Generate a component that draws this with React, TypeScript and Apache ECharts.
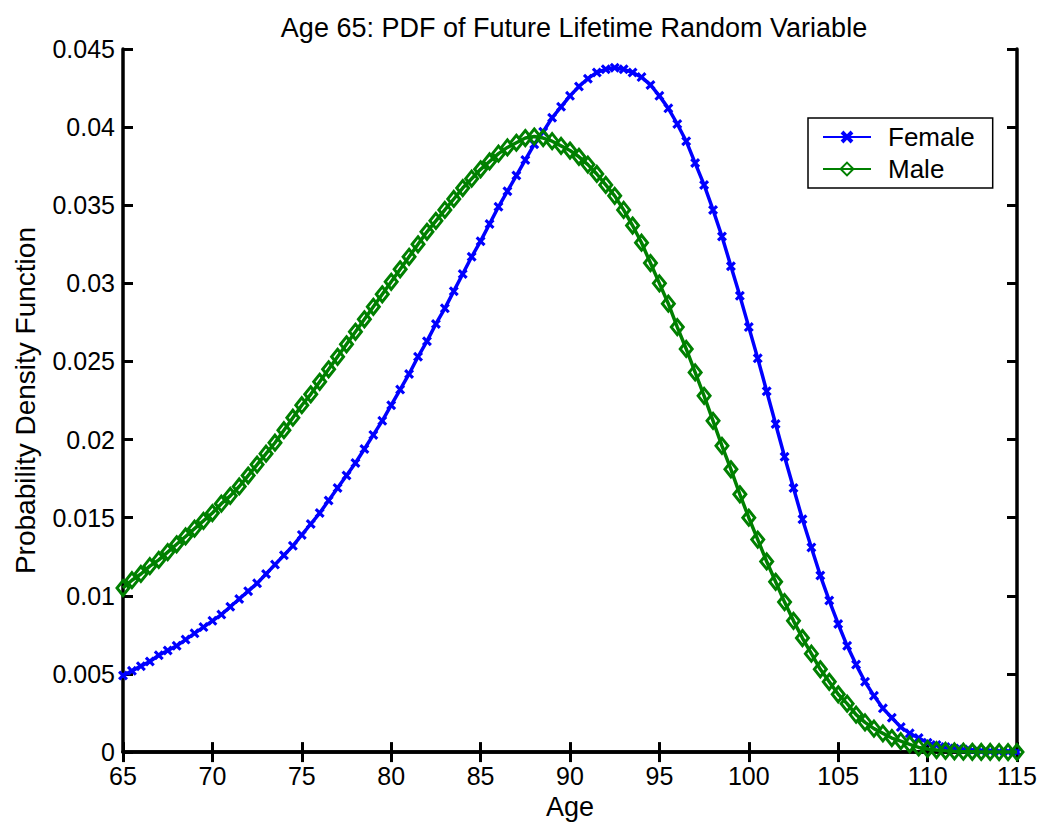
import React, { useEffect, useRef } from "react";
import * as echarts from "echarts";

const ages: number[] = [
  65, 65.5, 66, 66.5, 67, 67.5, 68, 68.5, 69, 69.5, 70, 70.5, 71, 71.5, 72, 72.5, 73, 73.5, 74, 74.5,
  75, 75.5, 76, 76.5, 77, 77.5, 78, 78.5, 79, 79.5, 80, 80.5, 81, 81.5, 82, 82.5, 83, 83.5, 84, 84.5,
  85, 85.5, 86, 86.5, 87, 87.5, 88, 88.5, 89, 89.5, 90, 90.5, 91, 91.5, 92, 92.5, 93, 93.5, 94, 94.5,
  95, 95.5, 96, 96.5, 97, 97.5, 98, 98.5, 99, 99.5, 100, 100.5, 101, 101.5, 102, 102.5, 103, 103.5, 104, 104.5,
  105, 105.5, 106, 106.5, 107, 107.5, 108, 108.5, 109, 109.5, 110, 110.5, 111, 111.5, 112, 112.5, 113, 113.5, 114, 114.5,
  115,
];

const female: number[] = [
  0.0049, 0.0052, 0.0055, 0.0058, 0.0062, 0.0065, 0.0068, 0.0072, 0.0076, 0.008,
  0.0084, 0.0088, 0.0093, 0.0098, 0.0103, 0.0108, 0.0114, 0.012, 0.0126, 0.0132,
  0.0139, 0.0146, 0.0153, 0.0161, 0.0169, 0.0177, 0.0185, 0.0194, 0.0203, 0.0212,
  0.0222, 0.0232, 0.0242, 0.0253, 0.0263, 0.0274, 0.0284, 0.0295, 0.0306, 0.0317,
  0.0327, 0.0338, 0.0349, 0.0359, 0.0369, 0.0379, 0.0389, 0.0397, 0.0406, 0.0413,
  0.042, 0.0426, 0.0431, 0.0435, 0.0437, 0.0438, 0.0437, 0.0435, 0.0432, 0.0427,
  0.042, 0.0412, 0.0402, 0.0391, 0.0377, 0.0363, 0.0347, 0.033, 0.0311, 0.0292,
  0.0272, 0.0252, 0.0231, 0.021, 0.0189, 0.0169, 0.0149, 0.0131, 0.0113, 0.0097,
  0.0082, 0.0068, 0.0056, 0.0045, 0.0036, 0.0028, 0.0022, 0.0016, 0.0012, 0.0009,
  0.0006, 0.00045, 0.00032, 0.00023, 0.00016, 0.00011, 0.00007, 0.00005, 0.00003, 0.00002,
  0.00001,
];

const male: number[] = [
  0.0105, 0.011, 0.0114, 0.0119, 0.0123, 0.0128, 0.0133, 0.0138, 0.0143, 0.0148,
  0.0153, 0.0159, 0.0164, 0.017, 0.0177, 0.0184, 0.0191, 0.0198, 0.0206, 0.0214,
  0.0222, 0.0229, 0.0237, 0.0245, 0.0253, 0.0261, 0.0269, 0.0277, 0.0285, 0.0293,
  0.0301, 0.0309, 0.0317, 0.0325, 0.0333, 0.034, 0.0347, 0.0354, 0.0361, 0.0367,
  0.0373, 0.0378, 0.0383, 0.0387, 0.039, 0.0393, 0.0394, 0.0393, 0.0391, 0.0388,
  0.0385, 0.0381, 0.0376, 0.037, 0.0363, 0.0356, 0.0347, 0.0337, 0.0326, 0.0313,
  0.03, 0.0287, 0.0272, 0.0258, 0.0243, 0.0228, 0.0212, 0.0196, 0.0181, 0.0165,
  0.015, 0.0136, 0.0122, 0.0109, 0.0096, 0.0084, 0.0073, 0.0063, 0.0053, 0.0045,
  0.0037, 0.0031, 0.0024, 0.0019, 0.0015, 0.0012, 0.0009, 0.0007, 0.0005, 0.0003,
  0.0002, 0.00013, 0.00008, 0.00005, 0.00003, 0.00002, 0.00001, 0.00001, 0, 0,
  0,
];

const seriesNames = ["Female", "Male"];
const titleText = "Age 65: PDF of Future Lifetime Random Variable";
const xLabel = "Age";
const yLabel = "Probability Density Function";

const FONT = "'Liberation Sans', Arial, Helvetica, sans-serif";
const BLUE = "#0000ff";
const GREEN = "#008000";
const XMARK =
  "path://M0,2.2L2.2,0L5,2.8L7.8,0L10,2.2L7.2,5L10,7.8L7.8,10L5,7.2L2.2,10L0,7.8L2.8,5Z";

export default function App() {
  const ref = useRef<HTMLDivElement>(null);

  useEffect(() => {
    if (!ref.current) return;
    const chart = echarts.init(ref.current, undefined, { renderer: "svg" });
    const axisLine = { show: true, lineStyle: { color: "#000", width: 3.5 } };
    const tick = { show: true, inside: true, length: 10, lineStyle: { color: "#000", width: 3 } };
    const fmtY = (v: number) => (v === 0 ? "0" : String(+v.toFixed(3)));
    chart.setOption({
      animation: false,
      backgroundColor: "#fff",
      title: {
        text: titleText,
        left: 569,
        top: 9,
        textAlign: "center",
        textStyle: { fontFamily: FONT, fontSize: 27, fontWeight: "normal", color: "#000" },
      },
      legend: {
        data: seriesNames,
        orient: "vertical",
        left: 808,
        top: 118,
        padding: [6, 18, 6, 14],
        itemWidth: 48,
        itemHeight: 16,
        itemGap: 6,
        borderColor: "#000",
        borderWidth: 1.5,
        backgroundColor: "#fff",
        textStyle: {
          fontFamily: FONT,
          fontSize: 26,
          color: "#000",
          lineHeight: 26,
          padding: [0, 0, 0, 12],
        },
      },
      grid: { left: 123, right: 32, top: 49, bottom: 72, containLabel: false },
      xAxis: [
        {
          type: "value",
          min: 65,
          max: 115,
          interval: 5,
          position: "bottom",
          name: xLabel,
          nameLocation: "middle",
          nameGap: 37,
          nameTextStyle: { fontFamily: FONT, fontSize: 27, color: "#000" },
          axisLine,
          axisTick: tick,
          axisLabel: { fontFamily: FONT, fontSize: 25, color: "#000", margin: 11 },
          splitLine: { show: false },
        },
        {
          type: "value",
          min: 65,
          max: 115,
          interval: 5,
          position: "top",
          axisLine,
          axisTick: tick,
          axisLabel: { show: false },
          splitLine: { show: false },
        },
      ],
      yAxis: [
        {
          type: "value",
          min: 0,
          max: 0.045,
          interval: 0.005,
          position: "left",
          name: yLabel,
          nameLocation: "middle",
          nameGap: 84,
          nameTextStyle: { fontFamily: FONT, fontSize: 28, color: "#000" },
          axisLine,
          axisTick: tick,
          axisLabel: { fontFamily: FONT, fontSize: 25, color: "#000", margin: 8, formatter: fmtY },
          splitLine: { show: false },
        },
        {
          type: "value",
          min: 0,
          max: 0.045,
          interval: 0.005,
          position: "right",
          axisLine,
          axisTick: tick,
          axisLabel: { show: false },
          splitLine: { show: false },
        },
      ],
      series: [
        {
          name: seriesNames[0],
          type: "line",
          data: ages.map((a, i) => [a, female[i]]),
          showSymbol: true,
          showAllSymbol: true,
          symbol: XMARK,
          symbolSize: 10,
          lineStyle: { color: BLUE, width: 3.5 },
          itemStyle: { color: BLUE },
          clip: false,
          z: 2,
        },
        {
          name: seriesNames[1],
          type: "line",
          data: ages.map((a, i) => [a, male[i]]),
          showSymbol: true,
          showAllSymbol: true,
          symbol: "diamond",
          symbolSize: [12, 15],
          lineStyle: { color: GREEN, width: 3.5 },
          itemStyle: { color: "transparent", borderColor: GREEN, borderWidth: 3 },
          clip: false,
          z: 3,
        },
      ],
    });
    return () => chart.dispose();
  }, []);

  return (
    <div
      ref={ref}
      style={{ position: "fixed", left: 0, top: 0, width: 1049, height: 825, background: "#fff" }}
    />
  );
}
